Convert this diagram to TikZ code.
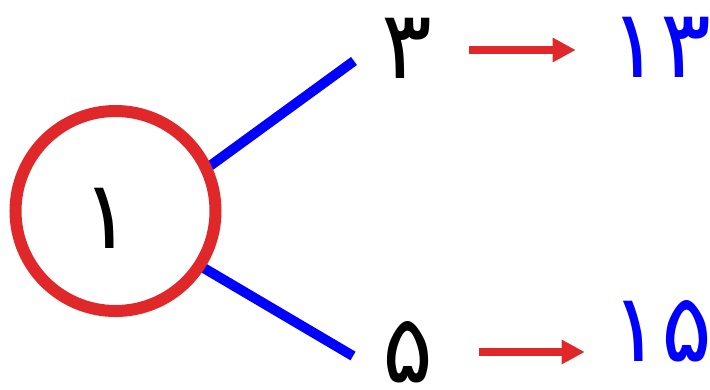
\documentclass[tikz,border=0pt]{standalone}
\usepackage{fontspec}
\usepackage{tikz}
\usetikzlibrary{arrows.meta,backgrounds}
\newfontfamily\persianfont{DejaVu Sans}
\definecolor{ringred}{HTML}{E0282A}
\definecolor{linkblue}{HTML}{0000FF}
\tikzset{
  digit/.style={inner sep=0pt, font=\persianfont\fontsize{95}{100}\selectfont},
  ring/.style={circle, draw=ringred, line width=12pt, minimum size=200pt,
    inner sep=0pt, outer sep=0pt},
  branch/.style={draw=linkblue, line width=10pt},
  maparrow/.style={-{Triangle[length=23pt, width=23pt]}, draw=ringred,
    line width=8pt, shorten >=0pt}
}
\begin{document}
\begin{tikzpicture}[x=1pt, y=-1pt]
\useasboundingbox (0,0) rectangle (710,389);
\node[ring] (one) at (115.5,211) {};
\node[digit] (onetxt) at (107,218) {۱};
\node[digit] (three) at (407,48) {۳};
\node[digit] (five) at (408,352) {۵};
\node[digit, text=linkblue] (thirteen) at (661,47) {۱۳};
\node[digit, text=linkblue] (fifteen) at (662,331) {۱۵};
\coordinate (upend) at (354,61);
\coordinate (lowend) at (353,356);

\begin{scope}[on background layer]
\draw[branch] (one.25) -- (upend);
\draw[branch] (one.-33) -- (lowend);
\end{scope}
\draw[maparrow] (three.east) ++(36,2) coordinate (a1) -- ++(107,0) coordinate (a2);
\draw[maparrow] (five.east) ++(45,0) coordinate (b1) -- ++(106,0) coordinate (b2);
\end{tikzpicture}
\end{document}
